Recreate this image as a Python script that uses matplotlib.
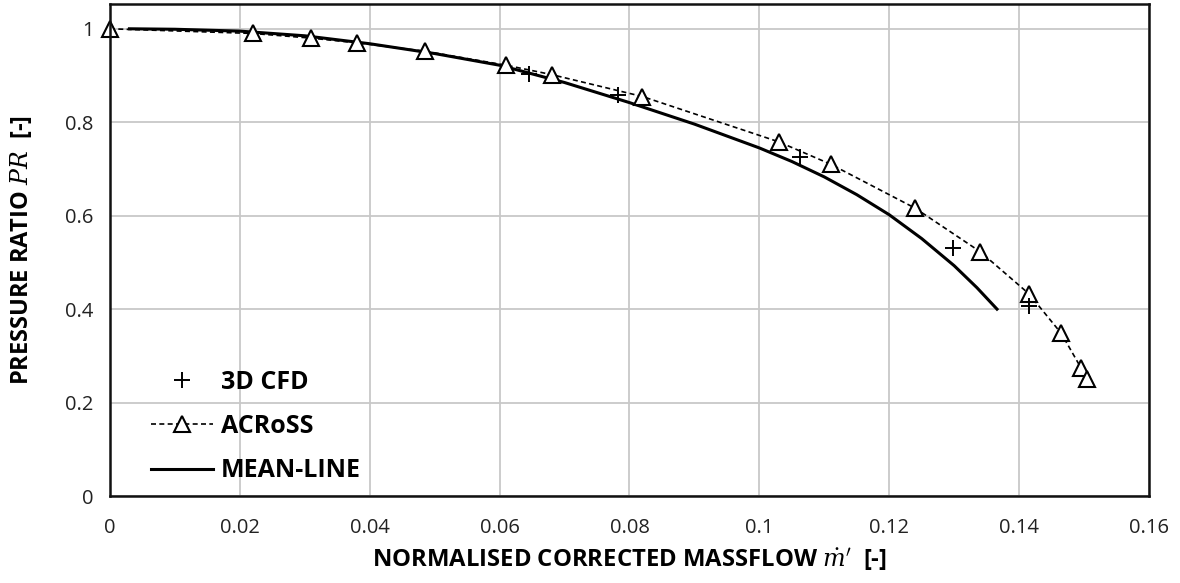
import matplotlib
matplotlib.use("Agg")
import matplotlib.pyplot as plt

# ---- data ----
cfd_x = [0.0646, 0.0783, 0.1062, 0.1298, 0.1415]
cfd_y = [0.903, 0.858, 0.725, 0.531, 0.406]

across_x = [0.0, 0.022, 0.031, 0.038, 0.0485, 0.061, 0.068, 0.082, 0.103, 0.111,
            0.124, 0.134, 0.1415, 0.1465, 0.1495, 0.1505]
across_y = [1.0, 0.99, 0.98, 0.97, 0.952, 0.922, 0.902, 0.855, 0.758, 0.71,
            0.616, 0.523, 0.433, 0.348, 0.275, 0.25]

mean_x = [0.003, 0.01, 0.02, 0.03, 0.04, 0.05, 0.06, 0.07, 0.08, 0.09, 0.1,
          0.105, 0.11, 0.115, 0.12, 0.125, 0.13, 0.1335, 0.1366]
mean_y = [1.0, 0.999, 0.995, 0.985, 0.968, 0.947, 0.922, 0.885, 0.842, 0.796, 0.745,
          0.716, 0.683, 0.645, 0.602, 0.551, 0.493, 0.446, 0.400]

x_ticks = [0, 0.02, 0.04, 0.06, 0.08, 0.1, 0.12, 0.14, 0.16]
x_ticklabels = ["0", "0.02", "0.04", "0.06", "0.08", "0.1", "0.12", "0.14", "0.16"]
y_ticks = [0, 0.2, 0.4, 0.6, 0.8, 1.0]
y_ticklabels = ["0", "0.2", "0.4", "0.6", "0.8", "1"]

plt.rcParams['font.family'] = ['Open Sans', 'DejaVu Sans']
plt.rcParams['mathtext.fontset'] = 'dejavuserif'

fig = plt.figure(figsize=(11.8, 5.83), dpi=100)
ax = fig.add_axes([0.0932, 0.1492, 0.8805, 0.8431])

ax.plot(cfd_x, cfd_y, linestyle='none', marker='+', color='black',
        markersize=12, markeredgewidth=1.4, label='3D CFD', zorder=4, clip_on=False)
ax.plot(across_x, across_y, linestyle=(0, (3, 2)), color='black', linewidth=1.2,
        marker='^', markersize=11, markerfacecolor='white', markeredgecolor='black',
        markeredgewidth=1.5, label='ACRoSS', zorder=3, clip_on=False)
ax.plot(mean_x, mean_y, linestyle='-', color='black', linewidth=2.2,
        label='MEAN-LINE', zorder=2, solid_joinstyle='round')

ax.set_xlim(0, 0.16)
ax.set_ylim(0, 1.052)
ax.set_xticks(x_ticks)
ax.set_xticklabels(x_ticklabels)
ax.set_yticks(y_ticks)
ax.set_yticklabels(y_ticklabels)
ax.tick_params(axis='x', length=0, labelsize=14.5, pad=16, colors='#222222')
ax.tick_params(axis='y', length=0, labelsize=14.5, pad=12, colors='#222222')
ax.grid(True, color='#c8c8c8', linewidth=1.3)
ax.set_axisbelow(True)
for s in ax.spines.values():
    s.set_color('#111111')
    s.set_linewidth(1.8)
    s.set_zorder(5)

ax.set_xlabel(r"NORMALISED CORRECTED MASSFLOW $\dot{m}'$  [-]", fontsize=17.2,
              fontweight='bold', labelpad=6)
ax.set_ylabel(r"PRESSURE RATIO $PR$  [-]", fontsize=17, fontweight='bold', labelpad=22)

leg = ax.legend(loc='lower left', bbox_to_anchor=(0.0175, -0.02), frameon=False,
                prop={'size': 18, 'weight': 'bold'}, handlelength=2.5,
                labelspacing=0.77, handletextpad=0.3, borderpad=0.4)

fig.savefig("out.png", dpi=100)
